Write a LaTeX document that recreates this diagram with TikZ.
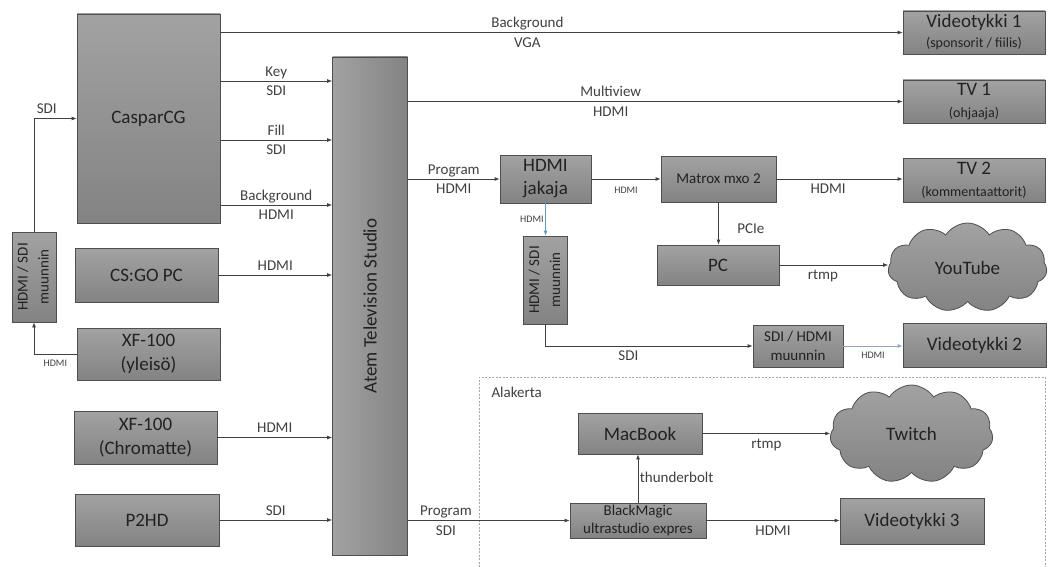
\documentclass[tikz,border=0pt]{standalone}
\usepackage{fontspec}
\setmainfont{Carlito}
\usetikzlibrary{arrows.meta,shapes.symbols}
\definecolor{boxtop}{HTML}{A2A2A2}
\definecolor{boxbot}{HTML}{838383}
\definecolor{boxline}{HTML}{4F4F4F}
\definecolor{wiregray}{HTML}{404040}
\definecolor{txt}{HTML}{222222}
\definecolor{cable}{HTML}{5B9BD5}
\definecolor{cablegray}{HTML}{8AA6C8}
\definecolor{floorline}{HTML}{A6A6A6}
\newcommand{\mainsz}{\fontsize{19}{22}\selectfont}
\newcommand{\midsz}{\fontsize{15}{19}\selectfont}
\newcommand{\subsz}{\fontsize{14}{17}\selectfont}
\newcommand{\lblsz}{\fontsize{15}{18}\selectfont}
\newcommand{\tnysz}{\fontsize{10}{12}\selectfont}
\newcommand{\vtext}[1]{\rotatebox{90}{\fontsize{15}{21}\selectfont\begin{tabular}{@{}c@{}}#1\end{tabular}}}

\begin{document}
\begin{tikzpicture}[x=1pt, y=-1pt,
	 box/.style 2 args={draw=boxline, line width=0.8pt, top color=boxtop, bottom color=boxbot,
	   minimum width=#1pt, minimum height=#2pt, inner sep=1pt, align=center, text=txt, font=\mainsz},
	 cloudbox/.style 2 args={cloud, cloud puffs=11, cloud puff arc=115, draw=boxline, line width=0.8pt,
	   top color=boxtop, bottom color=boxbot, minimum width=#1pt, minimum height=#2pt, inner sep=0pt,
	   text=txt, font=\mainsz},
	 wire/.style={draw=wiregray, line width=0.8pt, -{Latex[length=5pt,width=4pt]}},
	 lbl/.style={font=\lblsz, text=wiregray, inner sep=1.5pt, text height=10pt, text depth=3pt},
	 lblup/.style={lbl, above},
	 lbldn/.style={lbl, below=3pt},
	 tny/.style={font=\tnysz, text=wiregray, inner sep=1.5pt}]
	\useasboundingbox (0,0) rectangle (1049,567);
	% sources
	\node (caspar) at (148.5,118.5) [box={143}{209}] {CasparCG};
	\node (csgo) at (146.5,275) [box={143}{54}] {CS:GO PC};
	\node (conv1) at (34,277) [box={42}{90}] {\vtext{HDMI / SDI\\muunnin}};
	\node (yleiso) at (148.5,354) [box={143}{52}] {XF-100\\[2pt](yleisö)};
	\node (chroma) at (145.5,437.5) [box={143}{53}] {XF-100\\[2pt](Chromatte)};
	\node (p2hd) at (147,520) [box={144}{52}] {P2HD};
	\node (atem) at (370,306) [box={75}{498}, left color=boxtop, right color=boxbot]
	    {\rotatebox{90}{Atem Television Studio}};
	% outputs
	\node (vt1) at (974,32.5) [box={142}{43}] {Videotykki 1\\[-2pt]{\subsz (sponsorit / fiilis)}};
	\node (tv1) at (974,101.5) [box={142}{43}] {TV 1\\{\subsz (ohjaaja)}};
	\node (tv2) at (974,180) [box={142}{44}] {TV 2\\{\subsz (kommentaattorit)}};
	\node (youtube) at (967.5,267.5) [cloudbox={159}{89}, aspect=1.8] {YouTube};
	\node (vt2) at (974.5,345) [box={143}{44}] {Videotykki 2};
	\node (jakaja) at (545.5,179) [box={91}{48}] {HDMI\\[1pt]jakaja};
	\node (matrox) at (718.5,179) [box={115}{46}, font=\midsz] {Matrox mxo 2};
	\node (pc) at (718,265) [box={122}{40}] {PC};
	\node (conv2) at (545.5,280) [box={41}{88}] {\vtext{HDMI / SDI\\muunnin}};
	\node (conv3) at (798,346) [box={90}{42}, font=\midsz] {SDI / HDMI\\muunnin};
	% downstairs
	\draw[floorline, line width=0.7pt, dash pattern=on 2pt off 1.5pt] (479,567) |- (1045,377) -- (1045,567);
	\node (alakerta) at (488,392) [anchor=west, font=\lblsz, text=wiregray] {Alakerta};
	\node (macbook) at (640,433.5) [box={124}{41}] {MacBook};
	\node (twitch) at (911.5,434) [cloudbox={163}{98}, aspect=1.65] {Twitch};
	\node (bmagic) at (638,520.5) [box={136}{35}, inner sep=0pt, font=\fontsize{15}{18}\selectfont]
	    {BlackMagic\\ultrastudio expres};
	\node (vt3) at (912,521) [box={144}{46}] {Videotykki 3};
	% connections
	\draw[wire] (caspar.east |- vt1.west) -- node[lblup, pos=0.45] {Background}
	    node[lbldn, pos=0.45] {VGA} (vt1.west);
	\draw[wire] ([yshift=37.5pt]caspar.east) -- node[lblup] {Key} node[lbldn] {SDI}
	    ([yshift=37.5pt]caspar.east -| atem.west);
	\draw[wire] ([yshift=-21.5pt]caspar.east) -- node[lblup] {Fill} node[lbldn] {SDI}
	    ([yshift=-21.5pt]caspar.east -| atem.west);
	\draw[wire] ([yshift=-86.5pt]caspar.east) -- node[lblup] {Background} node[lbldn] {HDMI}
	    ([yshift=-86.5pt]caspar.east -| atem.west);
	\draw[wire] (conv1.north) |- node[lblup, pos=0.65] {SDI} (caspar.west);
	\draw[wire] (yleiso.west) -| node[tny, below=4pt, pos=0.25] {HDMI} (conv1.south);
	\draw[wire] (csgo.east) -- node[lblup] {HDMI} (csgo.east -| atem.west);
	\draw[wire] (chroma.east) -- node[lblup] {HDMI} (chroma.east -| atem.west);
	\draw[wire] (p2hd.east) -- node[lblup] {SDI} (p2hd.east -| atem.west);
	\draw[wire] (atem.east |- tv1.west) -- node[lblup, pos=0.41] {Multiview}
	    node[lbldn, pos=0.41] {HDMI} (tv1.west);
	\draw[wire] (atem.east |- jakaja.west) -- node[lblup] {Program} node[lbldn] {HDMI} (jakaja.west);
	\draw[wire] (jakaja.east) -- node[tny, below=6pt] {HDMI} (matrox.west);
	\draw[wire] (matrox.east) -- node[lbldn, pos=0.41] {HDMI} (matrox.east -| tv2.west);
	\draw[wire] (matrox.south) -- node[lbl, right=17pt, pos=0.65] {PCIe} (matrox.south |- pc.north);
	\draw[wire] (pc.east) -- node[lbldn, pos=0.4] {rtmp} (pc.east -| youtube.west);
	\draw[wire, draw=cable] (jakaja.south) -- node[tny, left] {HDMI} (conv2.north);
	\draw[wire] (conv2.south) |- node[lbldn, pos=0.7] {SDI} (conv3.west);
	\draw[wire, draw=cablegray] (conv3.east) -- node[tny, below=4pt] {HDMI} (conv3.east -| vt2.west);
	\draw[wire] (atem.east |- bmagic.west) -- node[lblup, pos=0.235] {Program}
	    node[lbldn, pos=0.235] {SDI} (bmagic.west);
	\draw[wire] (bmagic.north) -- node[lbl, right] {thunderbolt} (bmagic.north |- macbook.south);
	\draw[wire] (macbook.east) -- node[lbldn] {rtmp} (macbook.east -| twitch.west);
	\draw[wire] (bmagic.east) -- node[lbldn] {HDMI} (bmagic.east -| vt3.west);
\end{tikzpicture}
\end{document}
